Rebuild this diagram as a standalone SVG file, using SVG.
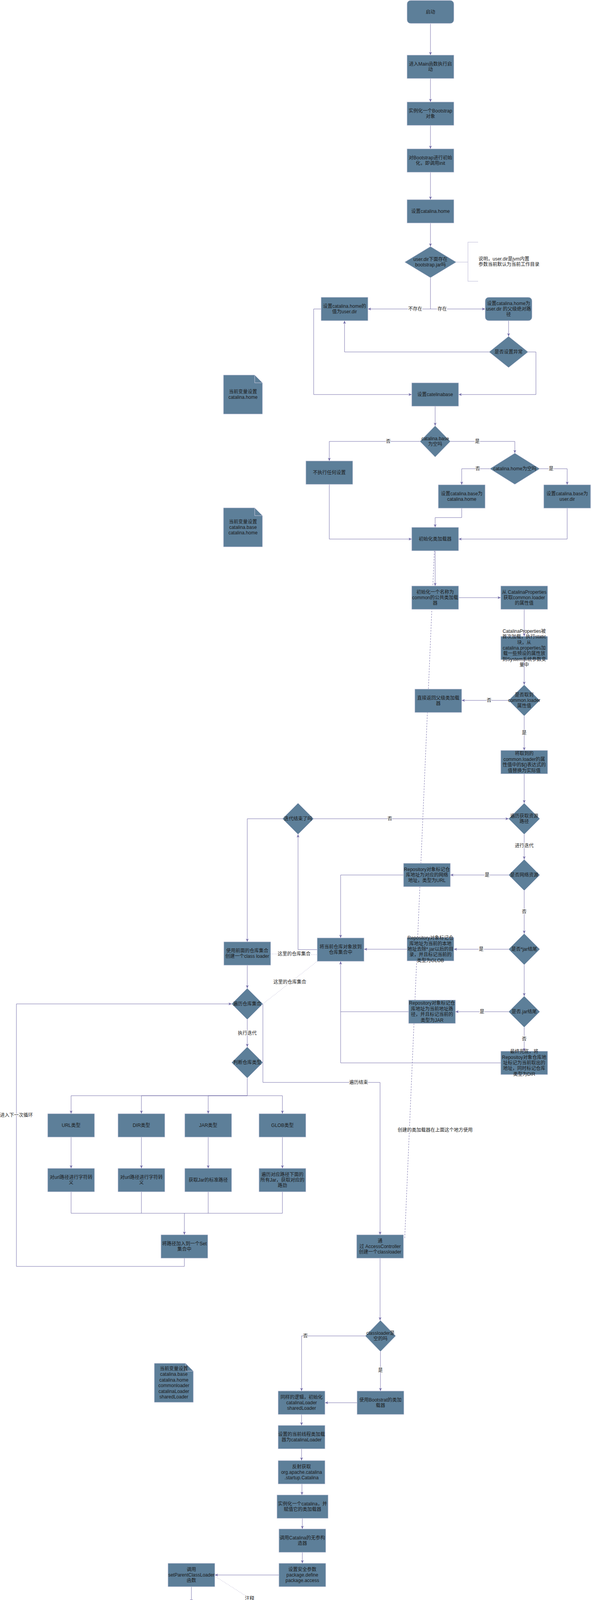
<svg xmlns="http://www.w3.org/2000/svg" width="1513" height="5252" viewBox="0 0 1513 5252">
<defs>
<style>
.n{fill:#5D7F99;stroke:#D0CEE2;stroke-width:1}
.t{font-family:"Liberation Sans","Noto Sans CJK SC",sans-serif;font-size:12px;fill:#1A1A1A;text-anchor:middle}
.tl{font-family:"Liberation Sans","Noto Sans CJK SC",sans-serif;font-size:12px;fill:#1A1A1A;text-anchor:start}
.l{font-family:"Liberation Sans","Noto Sans CJK SC",sans-serif;font-size:12px;fill:#1A1A1A;text-anchor:middle;stroke:#FFFFFF;stroke-width:3px;paint-order:stroke;stroke-linejoin:round}
.e{fill:none;stroke:#736CA8;stroke-width:1}
.a{marker-end:url(#arr)}
.d{stroke-dasharray:4 3}
.o{stroke-dasharray:1 3}
.fold{fill:none;stroke:#D0CEE2;stroke-width:1}
</style>
<marker id="arr" markerWidth="10" markerHeight="10" refX="8" refY="4" orient="auto" markerUnits="userSpaceOnUse">
<path d="M0,0.5 L8,4 L0,7.5 L2,4 Z" fill="#736CA8"/>
</marker>
</defs>
<rect width="1513" height="5252" fill="#FFFFFF"/>

<g id="connectors">
<path class="e a" d="M1102,61 V141"/>
<path class="e a" d="M1102,201 V261"/>
<path class="e a" d="M1102,321 V381"/>
<path class="e a" d="M1102,441 V511"/>
<path class="e a" d="M1102,571 V631"/>
<path class="e a" d="M1102,711 V791 H942"/>
<path class="e a" d="M1102,791 H1242"/>
<path d="M1168,671 H1198 M1224,620 H1198 V720 H1224" fill="none" stroke="#D0CEE2" stroke-width="1.5"/>
<path class="e a" d="M1302,821 V861"/>
<path class="e a" d="M1252,901 H882 V821"/>
<path class="e a" d="M1352,901 H1372 V1010 H1174"/>
<path class="e a" d="M822,791 H803 V1010 H1054"/>
<path class="e a" d="M1114,1040 V1090"/>
<path class="e a" d="M1075,1130 H843 V1180"/>
<path class="e a" d="M1153,1130 H1318 V1160"/>
<path class="e a" d="M1254,1200 H1182 V1241"/>
<path class="e a" d="M1382,1200 H1452 V1241"/>
<path class="e a" d="M1182,1301 V1325 H1114 V1350"/>
<path class="e a" d="M1452,1301 V1380 H1174"/>
<path class="e a" d="M843,1240 V1380 H1054"/>
<path class="e a" d="M1114,1410 V1500"/>
<path class="e d" d="M1112,1410 L1036,3172"/>
<path class="e a" d="M1174,1530 H1282"/>
<path class="e a" d="M1342,1560 V1629"/>
<path class="e a" d="M1342,1689 V1753"/>
<path class="e a" d="M1302,1793 H1182"/>
<path class="e a" d="M1342,1833 V1921"/>
<path class="e a" d="M1342,1981 V2056"/>
<path class="e a" d="M803,2096 H1302"/>
<path class="e a" d="M1342,2136 V2200"/>
<path class="e a" d="M1302,2240 H1153"/>
<path class="e a" d="M1033,2240 H872 V2401"/>
<path class="e a" d="M1342,2280 V2390"/>
<path class="e a" d="M1302,2430 H1162"/>
<path class="e a" d="M1042,2430 H932"/>
<path class="e a" d="M1342,2470 V2550"/>
<path class="e a" d="M1302,2590 H1166"/>
<path class="e" d="M1046,2590 H872"/>
<path class="e a" d="M1342,2630 V2691"/>
<path class="e a" d="M1282,2721 H872 V2461"/>
<path class="e a" d="M812,2431 H763 V2136"/>
<path class="e a" d="M723,2096 H633 V2411"/>
<path class="e o" d="M693,2442 L812,2444"/>
<path class="e o" d="M812,2461 L673,2570"/>
<path class="e a" d="M633,2471 V2530"/>
<path class="e a" d="M472,3221 V3242 H42 V2570 H593"/>
<path class="e a" d="M633,2610 V2680"/>
<path class="e a" d="M673,2570 V2771 H973 V3161"/>
<path class="e" d="M633,2760 V2805"/>
<path class="e a" d="M633,2805 H182 V2851"/>
<path class="e a" d="M633,2805 H362 V2851"/>
<path class="e a" d="M633,2805 H533 V2851"/>
<path class="e a" d="M633,2805 H723 V2851"/>
<path class="e a" d="M182,2911 V2991"/>
<path class="e a" d="M362,2911 V2991"/>
<path class="e a" d="M533,2911 V2991"/>
<path class="e a" d="M723,2911 V2991"/>
<path class="e" d="M182,3051 V3106 H723 V3051 M362,3051 V3106 M533,3051 V3106"/>
<path class="e a" d="M472,3106 V3161"/>
<path class="e a" d="M973,3221 V3380"/>
<path class="e a" d="M935,3420 H772 V3561"/>
<path class="e a" d="M974,3460 V3561"/>
<path class="e a" d="M914,3591 H832"/>
<path class="e a" d="M772,3621 V3649"/>
<path class="e a" d="M772,3709 V3739"/>
<path class="e a" d="M773,3799 V3827"/>
<path class="e a" d="M774,3887 V3914"/>
<path class="e a" d="M774,3974 V4002"/>
<path class="e a" d="M714,4032 H550"/>
<path class="e o" d="M550,4035 L762,4170"/>
<path class="e a" d="M490,4062 V4102"/>
<path class="e a" d="M490,4162 V4195"/>
<path class="e a" d="M490,4255 V4317"/>
<path class="e a" d="M490,4377 V4430"/>
<path class="e a" d="M490,4490 V4565"/>
<path class="e a" d="M490,4625 V4688"/>
<path class="e a" d="M550,4718 H671"/>
<path class="e a" d="M711,4757 V4911 H550"/>
<path class="e a" d="M490,4748 V4881"/>
<path class="e a" d="M490,4941 V5015"/>
<path class="e a" d="M751,4717 H871"/>
<path class="e a" d="M991,4718 H1041"/>
<path class="e a" d="M1161,4718 H1233"/>
<path class="e a" d="M1293,4748 V4794"/>
<path class="e a" d="M1254,4834 H1161"/>
<path class="e a" d="M1293,4874 V4945"/>
<path class="e a" d="M1163,4975 H1234"/>
<path class="e a" d="M1043,4975 H963"/>
<path class="e a" d="M1294,5005 V5074"/>
<path class="e a" d="M960,5104 H1041"/>
<path class="e a" d="M1161,5104 H1234"/>
<path d="M900,5134 V5191" fill="none" stroke="#A9A4D0" stroke-width="1" marker-end="url(#arr)"/>

<text class="l" x="1063" y="795">不存在</text>
<text class="l" x="1132" y="795">存在</text>
<text class="l" x="994" y="1134">否</text>
<text class="l" x="1222" y="1134">是</text>
<text class="l" x="1223" y="1204">否</text>
<text class="l" x="1411" y="1204">是</text>
<text class="l" x="1252" y="1797">否</text>
<text class="l" x="1342" y="1880">是</text>
<text class="l" x="998" y="2100">否</text>
<text class="l" x="1342" y="2169">进行迭代</text>
<text class="l" x="1247" y="2244">是</text>
<text class="l" x="1342" y="2338">否</text>
<text class="l" x="1232" y="2434">是</text>
<text class="l" x="1234" y="2594">是</text>
<text class="l" x="1342" y="2664">否</text>
<text class="l" x="753" y="2446">这里的仓库集合</text>
<text class="l" x="742" y="2518">这里的仓库集合</text>
<text class="l" x="42" y="2859">进入下一次循环</text>
<text class="l" x="633" y="2649">执行迭代</text>
<text class="l" x="918" y="2775">遍历结束</text>
<text class="l" x="1114" y="2897">创建的类加载器在上面这个地方使用</text>
<text class="l" x="782" y="3424">否</text>
<text class="l" x="974" y="3512">是</text>
<text class="l" x="639" y="4096">注释</text>
<text class="l" x="708" y="4915">是</text>
<text class="l" x="825" y="4721">否</text>
<text class="l" x="1293" y="4914">是</text>
</g>

<g id="n-start"><rect class="n" x="1042" y="1" width="120" height="59" rx="9"/><text class="t" x="1102" y="35">启动</text></g>
<g id="n-main"><rect class="n" x="1042" y="141" width="120" height="60"/><text class="t" x="1102" y="167.8">进入Main函数执行启</text><text class="t" x="1102" y="182.2">动</text></g>
<g id="n-bootstrap"><rect class="n" x="1042" y="261" width="120" height="60"/><text class="t" x="1102" y="287.8">实例化一个Bootstrap</text><text class="t" x="1102" y="302.2">对象</text></g>
<g id="n-init"><rect class="n" x="1042" y="381" width="120" height="60"/><text class="t" x="1102" y="407.8">对Bootstrap进行初始</text><text class="t" x="1102" y="422.2">化，即调用init</text></g>
<g id="n-home"><rect class="n" x="1042" y="511" width="120" height="60"/><text class="t" x="1102" y="545">设置catalina.home</text></g>
<g id="d-userdir"><polygon class="n" points="1102,631 1168,671 1102,711 1036,671"/><text class="t" x="1102" y="667.8">user.dir下面存在</text><text class="t" x="1102" y="682.2">bootstrap.jar吗</text></g>
<g id="note-userdir"><text class="tl" x="1225" y="667">说明，user.dir是jvm内置</text><text class="tl" x="1225" y="681.4">参数当前默认为当前工作目录</text></g>
<g id="n-home-userdir"><rect class="n" x="822" y="761" width="120" height="60"/><text class="t" x="882" y="787.8">设置catalina.home的</text><text class="t" x="882" y="802.2">值为user.dir</text></g>
<g id="n-home-parent"><rect class="n" x="1242" y="761" width="120" height="60" rx="9"/><text class="t" x="1302" y="780.6">设置catalina.home为</text><text class="t" x="1302" y="795">user.dir 的父级绝对路</text><text class="t" x="1302" y="809.4">径</text></g>
<g id="d-exception"><polygon class="n" points="1302,861 1352,901 1302,941 1252,901"/><text class="t" x="1302" y="905">是否设置异常</text></g>
<g id="n-base"><rect class="n" x="1054" y="980" width="120" height="60"/><text class="t" x="1114" y="1014">设置catelinabase</text></g>
<g id="doc-1"><path class="n" d="M572,960 H652 L672,980 V1060 H572 Z"/><path class="fold" d="M652,960 V980 H672"/><text class="t" x="622" y="1006.8">当前变量设置</text><text class="t" x="622" y="1021.2">catalina.home</text></g>
<g id="d-base-empty"><polygon class="n" points="1114,1090 1153,1130 1114,1170 1075,1130"/><text class="t" x="1114" y="1126.8">catalina.base</text><text class="t" x="1114" y="1141.2">为空吗</text></g>
<g id="n-noop"><rect class="n" x="783" y="1180" width="120" height="60"/><text class="t" x="843" y="1214">不执行任何设置</text></g>
<g id="d-home-empty"><polygon class="n" points="1318,1160 1382,1200 1318,1240 1254,1200"/><text class="t" x="1318" y="1204">catalina.home为空吗</text></g>
<g id="n-base-home"><rect class="n" x="1122" y="1241" width="120" height="60"/><text class="t" x="1182" y="1267.8">设置catalina.base为</text><text class="t" x="1182" y="1282.2">catalina.home</text></g>
<g id="n-base-userdir"><rect class="n" x="1392" y="1241" width="120" height="60"/><text class="t" x="1452" y="1267.8">设置catalina.base为</text><text class="t" x="1452" y="1282.2">user.dir</text></g>
<g id="n-initloader"><rect class="n" x="1054" y="1350" width="120" height="60"/><text class="t" x="1114" y="1384">初始化类加载器</text></g>
<g id="doc-2"><path class="n" d="M572,1300 H652 L672,1320 V1400 H572 Z"/><path class="fold" d="M652,1300 V1320 H672"/><text class="t" x="622" y="1339.6">当前变量设置</text><text class="t" x="622" y="1354">catalina.base</text><text class="t" x="622" y="1368.4">catalina.home</text></g>
<g id="n-common"><rect class="n" x="1054" y="1500" width="120" height="60"/><text class="t" x="1114" y="1519.6">初始化一个名称为</text><text class="t" x="1114" y="1534">common的公共类加载</text><text class="t" x="1114" y="1548.4">器</text></g>
<g id="n-getprop"><rect class="n" x="1282" y="1500" width="120" height="60"/><text class="t" x="1342" y="1519.6">从 CatalinaProperties</text><text class="t" x="1342" y="1534">获取common.loader</text><text class="t" x="1342" y="1548.4">的属性值</text></g>
<g id="n-static"><rect class="n" x="1282" y="1629" width="120" height="60"/><text class="t" x="1342" y="1619.8">CatalinaProperties被</text><text class="t" x="1342" y="1634.2">首次加载，执行static</text><text class="t" x="1342" y="1648.6">块，从</text><text class="t" x="1342" y="1663">catalina.properties加</text><text class="t" x="1342" y="1677.4">载一些预设的属性放</text><text class="t" x="1342" y="1691.8">到System系统参数变</text><text class="t" x="1342" y="1706.2">量中</text></g>
<g id="d-gotprop"><polygon class="n" points="1342,1753 1382,1793 1342,1833 1302,1793"/><text class="t" x="1342" y="1782.6">是否取到</text><text class="t" x="1342" y="1797">common.loader</text><text class="t" x="1342" y="1811.4">属性值</text></g>
<g id="n-parent"><rect class="n" x="1062" y="1764" width="120" height="60"/><text class="t" x="1122" y="1790.8">直接返回父级类加载</text><text class="t" x="1122" y="1805.2">器</text></g>
<g id="n-replace"><rect class="n" x="1282" y="1921" width="120" height="60"/><text class="t" x="1342" y="1933.4">将取到的</text><text class="t" x="1342" y="1947.8">common.loader的属</text><text class="t" x="1342" y="1962.2">性值中的${}表达式的</text><text class="t" x="1342" y="1976.6">值替换为实际值</text></g>
<g id="d-iterpath"><polygon class="n" points="1342,2056 1382,2096 1342,2136 1302,2096"/><text class="t" x="1342" y="2092.8">遍历获取资源</text><text class="t" x="1342" y="2107.2">路径</text></g>
<g id="d-iterend"><polygon class="n" points="763,2056 803,2096 763,2136 723,2096"/><text class="t" x="763" y="2100">迭代结束了吗</text></g>
<g id="d-net"><polygon class="n" points="1342,2200 1382,2240 1342,2280 1302,2240"/><text class="t" x="1342" y="2244">是否网络资源</text></g>
<g id="n-url"><rect class="n" x="1033" y="2210" width="120" height="60"/><text class="t" x="1093" y="2229.6">Repository对象标记仓</text><text class="t" x="1093" y="2244">库地址为对应的网络</text><text class="t" x="1093" y="2258.4">地址，类型为URL</text></g>
<g id="n-addrepo"><rect class="n" x="812" y="2401" width="120" height="60"/><text class="t" x="872" y="2427.8">将当前仓库对象放到</text><text class="t" x="872" y="2442.2">仓库集合中</text></g>
<g id="d-starjar"><polygon class="n" points="1342,2390 1382,2430 1342,2470 1302,2430"/><text class="t" x="1342" y="2434">是否*jar结尾</text></g>
<g id="n-glob"><rect class="n" x="1042" y="2400" width="120" height="60"/><text class="t" x="1102" y="2405.2">Repository对象标记仓</text><text class="t" x="1102" y="2419.6">库地址为当前的本地</text><text class="t" x="1102" y="2434">地址去除*.jar以后的目</text><text class="t" x="1102" y="2448.4">录，并且标记当前的</text><text class="t" x="1102" y="2462.8">类型为GLOB</text></g>
<g id="d-dotjar"><polygon class="n" points="1342,2550 1382,2590 1342,2630 1302,2590"/><text class="t" x="1342" y="2594">是否.jar结尾</text></g>
<g id="n-jar"><rect class="n" x="1046" y="2560" width="120" height="60"/><text class="t" x="1106" y="2572.4">Repository对象标记仓</text><text class="t" x="1106" y="2586.8">库地址为当前地址路</text><text class="t" x="1106" y="2601.2">径，并且标记当前的</text><text class="t" x="1106" y="2615.6">类型为JAR</text></g>
<g id="n-dir"><rect class="n" x="1282" y="2691" width="120" height="60"/><text class="t" x="1342" y="2696.2">最终兜底，将</text><text class="t" x="1342" y="2710.6">Repositoy对象仓库地</text><text class="t" x="1342" y="2725">址标记为当前取出的</text><text class="t" x="1342" y="2739.4">地址，同时标记仓库</text><text class="t" x="1342" y="2753.8">类型为DIR</text></g>
<g id="n-createloader"><rect class="n" x="573" y="2411" width="120" height="60"/><text class="t" x="633" y="2437.8">使用前面的仓库集合</text><text class="t" x="633" y="2452.2">创建一个class loader</text></g>
<g id="d-iterrepo"><polygon class="n" points="633,2530 673,2570 633,2610 593,2570"/><text class="t" x="633" y="2574">遍历仓库集合</text></g>
<g id="d-repotype"><polygon class="n" points="633,2680 673,2720 633,2760 593,2720"/><text class="t" x="633" y="2724">判断仓库类型</text></g>
<g id="n-type-url"><rect class="n" x="122" y="2851" width="120" height="60"/><text class="t" x="182" y="2885">URL类型</text></g>
<g id="n-type-dir"><rect class="n" x="302" y="2851" width="120" height="60"/><text class="t" x="362" y="2885">DIR类型</text></g>
<g id="n-type-jar"><rect class="n" x="473" y="2851" width="120" height="60"/><text class="t" x="533" y="2885">JAR类型</text></g>
<g id="n-type-glob"><rect class="n" x="663" y="2851" width="120" height="60"/><text class="t" x="723" y="2885">GLOB类型</text></g>
<g id="n-esc-url"><rect class="n" x="122" y="2991" width="120" height="60"/><text class="t" x="182" y="3017.8">对url路径进行字符转</text><text class="t" x="182" y="3032.2">义</text></g>
<g id="n-esc-dir"><rect class="n" x="302" y="2991" width="120" height="60"/><text class="t" x="362" y="3017.8">对url路径进行字符转</text><text class="t" x="362" y="3032.2">义</text></g>
<g id="n-jarpath"><rect class="n" x="473" y="2991" width="120" height="60"/><text class="t" x="533" y="3025">获取Jar的标准路径</text></g>
<g id="n-globpath"><rect class="n" x="663" y="2991" width="120" height="60"/><text class="t" x="723" y="3010.6">遍历对应路径下面的</text><text class="t" x="723" y="3025">所有Jar，获取对应的</text><text class="t" x="723" y="3039.4">路劲</text></g>
<g id="n-set"><rect class="n" x="412" y="3161" width="120" height="60"/><text class="t" x="472" y="3187.8">将路径加入到一个Set</text><text class="t" x="472" y="3202.2">集合中</text></g>
<g id="n-access"><rect class="n" x="913" y="3161" width="120" height="60"/><text class="t" x="973" y="3180.6">通</text><text class="t" x="973" y="3195">过 AccessController</text><text class="t" x="973" y="3209.4">创建一个classloader</text></g>
<g id="d-loadernull"><polygon class="n" points="974,3380 1013,3420 974,3460 935,3420"/><text class="t" x="974" y="3416.8">classloader是</text><text class="t" x="974" y="3431.2">空的吗</text></g>
<g id="n-bootloader"><rect class="n" x="914" y="3561" width="120" height="60"/><text class="t" x="974" y="3587.8">使用Bootstrat的类加</text><text class="t" x="974" y="3602.2">载器</text></g>
<g id="n-same"><rect class="n" x="712" y="3561" width="120" height="60"/><text class="t" x="772" y="3580.6">同样的逻辑，初始化</text><text class="t" x="772" y="3595">catalinaLoader</text><text class="t" x="772" y="3609.4">sharedLoader</text></g>
<g id="doc-3"><path class="n" d="M395,3490 H475 L495,3510 V3590 H395 Z"/><path class="fold" d="M475,3490 V3510 H495"/><text class="t" x="445" y="3508">当前变量设置</text><text class="t" x="445" y="3522.4">catalina.base</text><text class="t" x="445" y="3536.8">catalina.home</text><text class="t" x="445" y="3551.2">commonloader</text><text class="t" x="445" y="3565.6">catalinaLoader</text><text class="t" x="445" y="3580">sharedLoader</text></g>
<g id="n-thread"><rect class="n" x="712" y="3649" width="120" height="60"/><text class="t" x="772" y="3675.8">设置的当前线程类加载</text><text class="t" x="772" y="3690.2">器为catalinaLoader</text></g>
<g id="n-reflect"><rect class="n" x="712" y="3739" width="120" height="60"/><text class="t" x="772" y="3758.6">反射获取</text><text class="t" x="772" y="3773">org.apache.catalina</text><text class="t" x="772" y="3787.4">.startup.Catalina</text></g>
<g id="n-newcatalina"><rect class="n" x="709" y="3827" width="131" height="60"/><text class="t" x="774.5" y="3853.8">实例化一个catalina，并</text><text class="t" x="774.5" y="3868.2">赋值它的类加载器</text></g>
<g id="n-ctor"><rect class="n" x="714" y="3914" width="120" height="60"/><text class="t" x="774" y="3940.8">调用Catalina的无参构</text><text class="t" x="774" y="3955.2">造器</text></g>
<g id="n-security"><rect class="n" x="714" y="4002" width="120" height="60"/><text class="t" x="774" y="4021.6">设置安全参数</text><text class="t" x="774" y="4036">package.define</text><text class="t" x="774" y="4050.4">package.access</text></g>
<g id="n-setparent"><rect class="n" x="430" y="4002" width="120" height="60"/><text class="t" x="490" y="4021.6">调用</text><text class="t" x="490" y="4036">setParentClassLoader</text><text class="t" x="490" y="4050.4">函数</text></g>
<g id="doc-4"><path class="n" d="M762,4121 H812 L842,4151 V4221 H762 Z"/><path class="fold" d="M812,4121 V4151 H842"/><text class="t" x="802" y="4153.4">入参是</text><text class="t" x="802" y="4167.8">sharedLoader</text><text class="t" x="802" y="4182.2">即传入了一个</text><text class="t" x="802" y="4196.6">类加载器</text></g>
<g id="n-daemon1"><rect class="n" x="430" y="4102" width="120" height="60"/><text class="t" x="490" y="4128.8">实例化的Catalina赋值给</text><text class="t" x="490" y="4143.2">Bootstrap.catalinaDaemon</text></g>
<g id="n-initdone"><rect class="n" x="430" y="4195" width="120" height="60"/><text class="t" x="490" y="4221.8">至此bootstract的初始</text><text class="t" x="490" y="4236.2">化就结束了</text></g>
<g id="n-daemon2"><rect class="n" x="430" y="4317" width="120" height="60"/><text class="t" x="490" y="4343.8">bootstrap变量赋值给</text><text class="t" x="490" y="4358.2">daemon</text></g>
<g id="n-await"><rect class="n" x="430" y="4430" width="120" height="60"/><text class="t" x="490" y="4442.4">通过反射调用</text><text class="t" x="490" y="4456.8">Catalina的setAwait方</text><text class="t" x="490" y="4471.2">法设置Catalina.await</text><text class="t" x="490" y="4485.6">为true</text></g>
<g id="doc-5"><path class="n" d="M113,4300 H285 L304,4319 V4490 H113 Z"/><path class="fold" d="M285,4300 V4319 H304"/><text class="t" x="208.5" y="4341.4">当前变量设置</text><text class="t" x="208.5" y="4355.8">System#catalina.base</text><text class="t" x="208.5" y="4370.2">System#catalina.home</text><text class="t" x="208.5" y="4384.6">Bootstrap.commonloader</text><text class="t" x="208.5" y="4399">Bootstrap.catalinaLoader</text><text class="t" x="208.5" y="4413.4">Bootstrap.sharedLoader</text><text class="t" x="208.5" y="4427.8">Catalina.parentClassLoader</text><text class="t" x="208.5" y="4442.2">Bootstrap.daemon</text><text class="t" x="208.5" y="4456.6">Catalina.await</text></g>
<g id="n-args"><rect class="n" x="430" y="4565" width="120" height="60"/><text class="t" x="490" y="4584.6">一开始启动tomcat传</text><text class="t" x="490" y="4599">入的一些指令参数</text><text class="t" x="490" y="4613.4">加载传入的指令参数</text></g>
<g id="n-load"><rect class="n" x="430" y="4688" width="120" height="60"/><text class="t" x="490" y="4707.6">反射调用Catalina的</text><text class="t" x="490" y="4722">load方法加载用户给</text><text class="t" x="490" y="4736.4">的入参</text></g>
<g id="d-loaded"><polygon class="n" points="711,4677 751,4717 711,4757 671,4717"/><text class="t" x="711" y="4706.6">通过loade变量</text><text class="t" x="711" y="4721">判断是否已经</text><text class="t" x="711" y="4735.4">加载过参数</text></g>
<g id="n-start2"><rect class="n" x="430" y="4881" width="120" height="60"/><text class="t" x="490" y="4915">调用Bootstrat#start</text></g>
<g id="n-before"><rect class="n" x="430" y="5015" width="120" height="60"/><text class="t" x="490" y="5013">在这之前，如果</text><text class="t" x="490" y="5027.4">catalina变量不存在则</text><text class="t" x="490" y="5041.8">bootstrap重新调用init</text><text class="t" x="490" y="5056.2">获取catalina</text><text class="t" x="490" y="5070.6">通过反射调用</text><text class="t" x="490" y="5085">Catalina#start方法</text></g>
<g id="n-empty"><rect class="n" x="430" y="5145" width="120" height="60"/></g>
<g id="doc-6"><path class="n" d="M125,4768 H297 L316,4787 V4958 H125 Z"/><path class="fold" d="M297,4768 V4787 H316"/><text class="t" x="220.5" y="4802.2">当前变量设置</text><text class="t" x="220.5" y="4816.6">System#catalina.base</text><text class="t" x="220.5" y="4831">System#catalina.home</text><text class="t" x="220.5" y="4845.4">Bootstrap.commonloader</text><text class="t" x="220.5" y="4859.8">Bootstrap.catalinaLoader</text><text class="t" x="220.5" y="4874.2">Bootstrap.sharedLoader</text><text class="t" x="220.5" y="4888.6">Catalina.parentClassLoader</text><text class="t" x="220.5" y="4903">Bootstrap.daemon</text><text class="t" x="220.5" y="4917.4">Catalina.await</text><text class="t" x="220.5" y="4931.8">System#java.io.tmpdir</text></g>
<g id="n-loadedflag"><rect class="n" x="871" y="4688" width="120" height="60"/><text class="t" x="931" y="4707.6">设置加载标记loaded</text><text class="t" x="931" y="4722">为true不进行二次加载</text><text class="t" x="931" y="4736.4">了</text></g>
<g id="n-reset"><rect class="n" x="1041" y="4688" width="120" height="60"/><text class="t" x="1101" y="4700.4">重新设置</text><text class="t" x="1101" y="4714.8">catalina.home</text><text class="t" x="1101" y="4729.2">catalina.base</text><text class="t" x="1101" y="4743.6">java.io.tpmdir</text></g>
<g id="n-naming"><rect class="n" x="1233" y="4688" width="120" height="60"/><text class="t" x="1293" y="4722">初始化命名空间</text></g>
<g id="d-naming"><polygon class="n" points="1293,4794 1332,4834 1293,4874 1254,4834"/><text class="t" x="1293" y="4823.6">是否启动命名</text><text class="t" x="1293" y="4838">空间，默认启</text><text class="t" x="1293" y="4852.4">用</text></g>
<g id="n-usenaming"><rect class="n" x="1041" y="4805" width="120" height="60"/><text class="t" x="1101" y="4831.8">设置</text><text class="t" x="1101" y="4846.2">catalina.useNaming=false</text></g>
<g id="n-username"><rect class="n" x="1234" y="4945" width="120" height="60"/><text class="t" x="1294" y="4971.8">设置</text><text class="t" x="1294" y="4986.2">catalina.userName=true</text></g>
<g id="n-pkgs"><rect class="n" x="1043" y="4945" width="120" height="60"/><text class="t" x="1103" y="4964.6">设置系统参数</text><text class="t" x="1103" y="4979">java.naming.factory.url.pkgs</text><text class="t" x="1103" y="4993.4">value + ":" + oldvalue</text></g>
<g id="n-initial"><rect class="n" x="843" y="4945" width="120" height="60"/><text class="t" x="903" y="4950.2">如果系统参数</text><text class="t" x="903" y="4964.6">java.naming.factory.initial没</text><text class="t" x="903" y="4979">有设置过则设置为</text><text class="t" x="903" y="4993.4">org.apache.naming</text><text class="t" x="903" y="5007.8">.java.javaURLContextFactory</text></g>
<g id="n-digester"><rect class="n" x="1234" y="5074" width="120" height="60"/><text class="t" x="1294" y="5093.6">初始化digester</text><text class="t" x="1294" y="5108">digester会根据xml解</text><text class="t" x="1294" y="5122.4">析对象</text></g>
<g id="n-confpath"><rect class="n" x="840" y="5074" width="120" height="60"/><text class="t" x="900" y="5093.6">获取配置文件路径，</text><text class="t" x="900" y="5108">默认实在</text><text class="t" x="900" y="5122.4">conf/server.xml</text></g>
<g id="n-digster"><rect class="n" x="1041" y="5074" width="120" height="60"/><text class="t" x="1101" y="5100.8">digster的解析做一个</text><text class="t" x="1101" y="5115.2">遗留项目</text></g>
<g id="n-abspath"><rect class="n" x="840" y="5191" width="120" height="60"/><text class="t" x="900" y="5203.4">配置文件会使用</text><text class="t" x="900" y="5217.8">catalina.home</text><text class="t" x="900" y="5232.2">拼接一个绝对路径来</text><text class="t" x="900" y="5246.6">使用</text></g>
<g id="n-classpath"><rect class="n" x="1043" y="5191" width="120" height="60"/><text class="t" x="1103" y="5203.4">默认目录下面没取到</text><text class="t" x="1103" y="5217.8">则通过当前类加载器</text><text class="t" x="1103" y="5232.2">加载一次，因为有可</text><text class="t" x="1103" y="5246.6">能是类文件</text></g>
<g id="n-embed"><rect class="n" x="1234" y="5191" width="120" height="60"/><text class="t" x="1294" y="5217.8">还没取到则获取</text><text class="t" x="1294" y="5232.2">server-embed.xml</text></g>
</svg>
